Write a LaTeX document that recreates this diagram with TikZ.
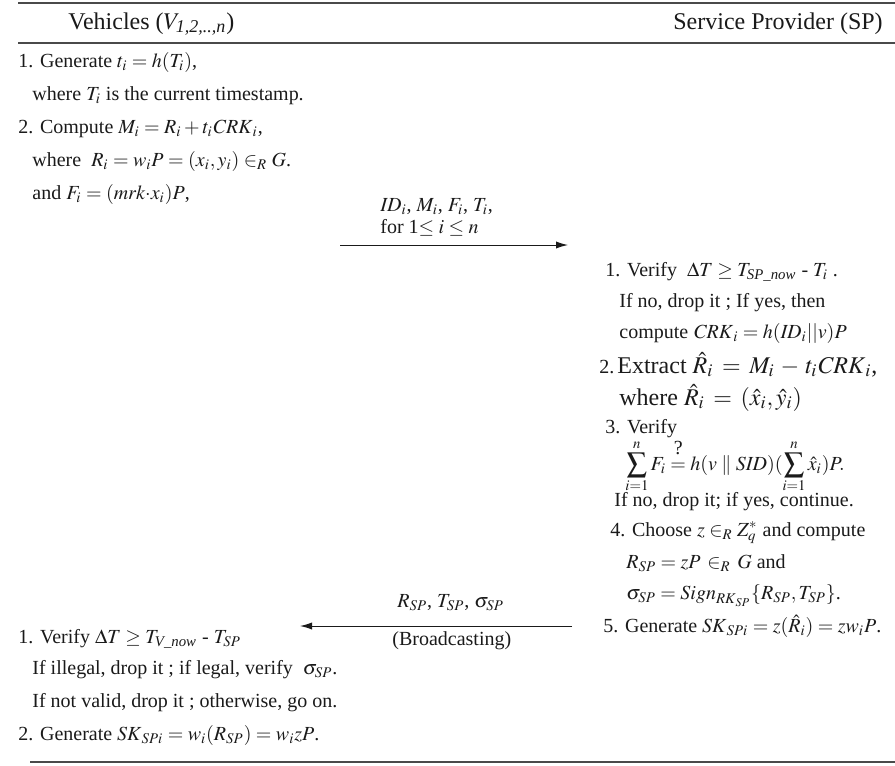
\documentclass[tikz,border=0pt]{standalone}
\usepackage{amsmath,amssymb}
\usepackage{mathptmx}
\usepackage{fontspec}
\setmainfont{Liberation Serif}
\usetikzlibrary{arrows.meta,positioning}
\definecolor{ink}     {HTML}{1A1A1A}
\definecolor{rulegray}{HTML}{4A4A4A}

\begin{document}
\begin{tikzpicture}[x=0.5pt,y=-0.5pt,font=\fontsize{10}{12}\selectfont,
    txt/.style={anchor=base west,inner sep=0pt,text=ink},
    head/.style={txt,font=\fontsize{12}{14}\selectfont},
    big/.style={txt,font=\fontsize{12}{14}\selectfont},
    msg/.style={-{Latex[length=6pt,width=3.6pt]},line width=0.5pt,ink},
    rulel/.style={rulegray,line width=0.9pt}]
  \useasboundingbox (0,0) rectangle (895,766);
  % rules
  \draw[rulel] (18,3) -- (895,3);
  \draw[rulel] (18,43) -- (895,43);
  \draw[rulel] (30,762) -- (895,762);
  % headers
  \node[head] (veh) at (68,29) {Vehicles ($V_{\textit{1,2,..,n}}$)};
  \node[head] (sp) at (673,29) {Service Provider (SP)};
  % vehicles, first part
  \node[txt] (v1) at (18,67) {1. Generate $t_i = h(T_i)$,};
  \node[txt] (v1a) at (32,100) {where $T_i$ is the current timestamp.};
  \node[txt] (v2) at (18,133) {2. Compute $M_i = R_i + t_i\mathit{CRK}_i$,};
  \node[txt] (v2a) at (32,166) {where \ $R_i = w_iP = (x_i, y_i) \in_R G$.};
  \node[txt] (v2b) at (32,199) {and $F_i = (\mathit{mrk}{\cdot}x_i)P$,};
  % request
  \coordinate (reqa) at (340,245);
  \coordinate (reqb) at (568,245);
  \draw[msg] (reqa) -- (reqb);
  \node[txt] (req1) at (380,211) {$\mathit{ID}_i$, $M_i$, $F_i$, $T_i$,};
  \node[txt] (req2) at (380,233) {for 1$\leq i \leq n$};
  % service provider
  \node[txt] (s1) at (605,276) {1. Verify \ $\Delta T \geq T_{\textit{SP\_now}}$ - $T_i$ .};
  \node[txt] (s1a) at (619,307) {If no, drop it ; If yes, then};
  \node[txt] (s1b) at (619,338) {compute $\mathit{CRK}_i = h(\mathit{ID}_i||v)P$};
  \node[txt] (s2) at (599,373) {2.};
  \node[big] (s2x) at (617,373) {Extract $\hat{R}_i \:=\: M_i \,-\, t_i\mathit{CRK}_i$,};
  \node[big] (s2a) at (619,405) {where $\hat{R}_i \:=\: (\hat{x}_i, \hat{y}_i)$};
  \node[txt] (s3) at (605,433) {3. Verify};
  \node[txt] (s3e) at (625,470) {$\displaystyle\sum_{i=1}^{n} F_i \overset{\raisebox{2pt}{?}}{=} h(v \parallel \mathit{SID})(\sum\limits_{i=1}^{n}\hat{x}_i)P.$};
  \node[txt] (s3a) at (614,506) {If no, drop it; if yes, continue.};
  \node[txt] (s4) at (610,536) {4. Choose $z \in_R Z_q^*$ and compute};
  \node[txt] (s4a) at (626,568) {$R_{SP} = zP \,\in_R\, G$ and};
  \node[txt] (s4b) at (626,599) {$\sigma_{SP} = \mathit{Sign}_{\mathit{RK}_{SP}}\{R_{SP}, T_{SP}\}$.};
  \node[txt] (s5) at (603,632) {5. Generate $\mathit{SK}_{SPi} = z(\hat{R}_i) = zw_iP$.};
  % broadcast
  \coordinate (bca) at (572,626);
  \coordinate (bcb) at (300,626);
  \draw[msg] (bca) -- (bcb);
  \node[txt] (bc1) at (397,607) {$R_{SP}$, $T_{SP}$, $\sigma_{SP}$};
  \node[txt] (bc2) at (392,645) {(Broadcasting)};
  % vehicles, second part
  \node[txt] (w1) at (18,643) {1. Verify $\Delta T \geq T_{\textit{V\_now}}$ - $T_{SP}$};
  \node[txt] (w1a) at (32,674) {If illegal, drop it ; if legal, verify \ $\sigma_{SP}$.};
  \node[txt] (w1b) at (32,707) {If not valid, drop it ; otherwise, go on.};
  \node[txt] (w2) at (18,740) {2. Generate $\mathit{SK}_{SPi} = w_i(R_{SP}) = w_izP$.};
\end{tikzpicture}
\end{document}
